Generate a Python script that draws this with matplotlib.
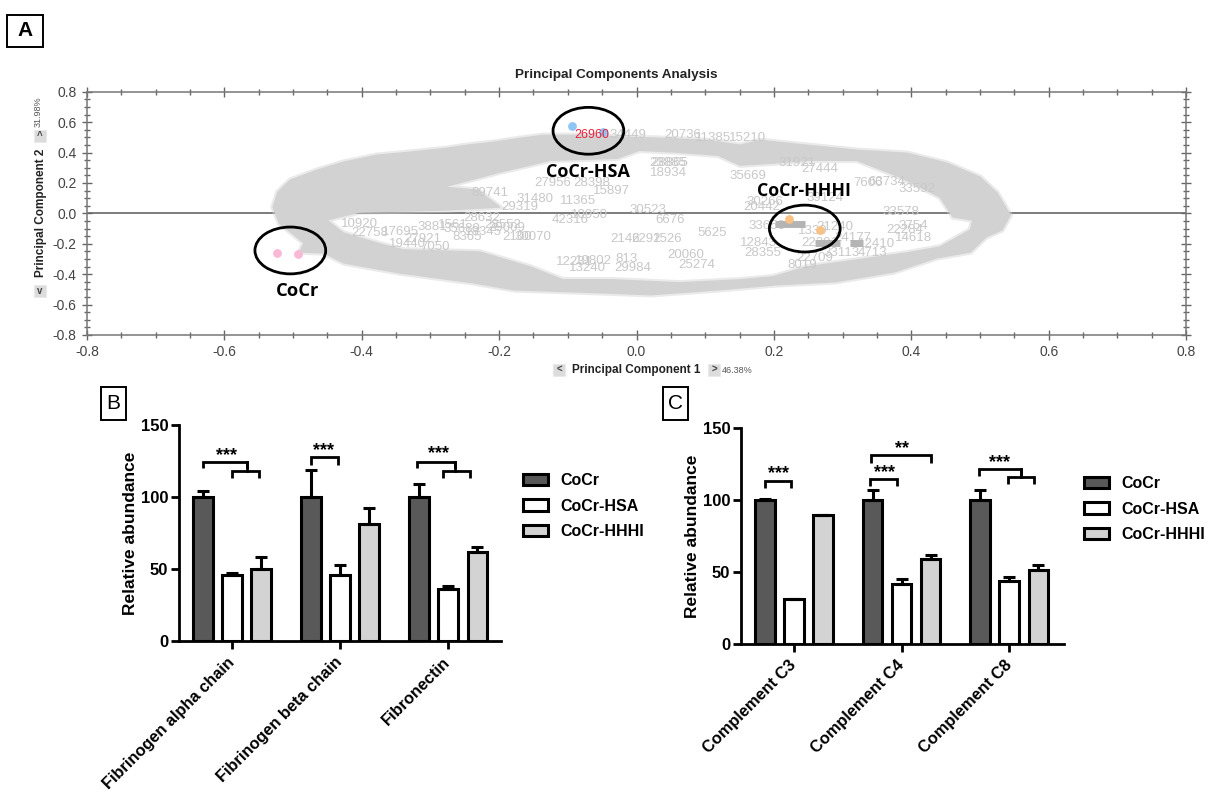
import numpy as np
import matplotlib
matplotlib.use('Agg')
import matplotlib.pyplot as plt
from matplotlib.patches import Ellipse, PathPatch, Rectangle
from matplotlib.path import Path
from matplotlib.ticker import MultipleLocator

plt.rcParams['font.family'] = ['Liberation Sans', 'DejaVu Sans']
plt.rcParams['axes.unicode_minus'] = False

W, H = 1215, 793

# PCA cloud outline
cloud_outer_x = [-0.522, -0.504, -0.465, -0.427, -0.378, -0.33, -0.276, -0.247, -0.209, -0.17, -0.136, -0.075,
                 -0.014, 0.044, 0.103, 0.151, 0.18, 0.248, 0.321, 0.394, 0.452, 0.5, 0.525, 0.544, 0.532, 0.509,
                 0.486, 0.437, 0.375, 0.289, 0.203, 0.119, 0.021, -0.053, -0.178, -0.237, -0.346, -0.426, -0.455,
                 -0.49, -0.484, -0.502, -0.52, -0.529]
cloud_outer_y = [0.14, 0.218, 0.284, 0.336, 0.382, 0.402, 0.428, 0.448, 0.467, 0.493, 0.513, 0.513,
                 0.5, 0.493, 0.48, 0.448, 0.48, 0.448, 0.415, 0.395, 0.33, 0.238, 0.133, -0.011, -0.109, -0.155,
                 -0.254, -0.293, -0.385, -0.45, -0.47, -0.503, -0.535, -0.522, -0.503, -0.457, -0.391, -0.326, -0.26,
                 -0.254, -0.195, -0.129, -0.064, 0.041]
cloud_hole_x = [-0.403, -0.276, -0.199, -0.232, -0.282, -0.199, -0.155, -0.126, -0.028, 0.004, 0.06, 0.119, 0.151,
                0.199, 0.248, 0.321, 0.384, 0.442, 0.461, 0.49, 0.486, 0.442, 0.394, 0.321, 0.248, 0.199, 0.151,
                0.063, -0.034, -0.107, -0.155, -0.228, -0.34, -0.378, -0.427, -0.451]
cloud_hole_y = [0.009, 0.022, 0.041, 0.153, 0.172, 0.271, 0.317, 0.349, 0.362, 0.415, 0.402, 0.382, 0.317,
                0.33, 0.349, 0.349, 0.238, 0.107, -0.024, -0.044, -0.109, -0.221, -0.26, -0.306, -0.352, -0.417, -0.437,
                -0.457, -0.437, -0.437, -0.352, -0.254, -0.24, -0.195, -0.129, -0.044]

# loose protein ids that can be read outside the cloud
protein_ids = ['30523', '6676', '2146', '2292', '1526', '5625', '813', '29984', '20060', '25274', '12231', '19802',
               '13240', '2100', '30070', '42316', '10950', '11365', '31480', '29319', '15897', '28398', '27956',
               '18934', '20736', '23885', '28865', '35669', '27444', '31921', '7606', '63734', '33592', '39124',
               '30266', '20442', '33578', '33658', '21240', '12843', '28355', '22709', '33113', '4713', '8019',
               '3754', '22284', '14618', '7050', '8365', '28552', '28632', '89741',
               '1561', '3881', '10920', '17695', '27921', '35689', '18345', '29009', '22758', '19440',
               '12410', '24177', '1339', '22291', '34449', '11385', '15210']
protein_x = [0.017, 0.049, -0.017, 0.014, 0.046, 0.11, -0.014, -0.005, 0.072, 0.087, -0.09, -0.063,
             -0.072, -0.174, -0.151, -0.097, -0.068, -0.085, -0.148, -0.17, -0.036, -0.065, -0.122,
             0.047, 0.068, 0.046, 0.048, 0.162, 0.267, 0.233, 0.337, 0.365, 0.408, 0.274,
             0.187, 0.183, 0.385, 0.19, 0.289, 0.178, 0.184, 0.26, 0.299, 0.343, 0.241,
             0.403, 0.391, 0.403, -0.293, -0.247, -0.194, -0.225, -0.213,
             -0.268, -0.298, -0.403, -0.344, -0.311, -0.254, -0.223, -0.189, -0.388, -0.334,
             0.35, 0.315, 0.257, 0.267, -0.012, 0.111, 0.162]
protein_y = [0.022, -0.044, -0.168, -0.168, -0.168, -0.129, -0.3, -0.358, -0.273, -0.339, -0.319, -0.312,
             -0.358, -0.155, -0.155, -0.044, -0.011, 0.08, 0.094, 0.041, 0.146, 0.199, 0.199,
             0.264, 0.513, 0.33, 0.33, 0.244, 0.29, 0.33, 0.199, 0.205, 0.159, 0.1,
             0.074, 0.041, 0.009, -0.083, -0.09, -0.195, -0.26, -0.293, -0.26, -0.26, -0.339,
             -0.083, -0.109, -0.162, -0.22, -0.155, -0.077, -0.031, 0.133,
             -0.077, -0.09, -0.07, -0.122, -0.168, -0.103, -0.122, -0.097, -0.129, -0.2,
             -0.2, -0.162, -0.116, -0.195, 0.513, 0.493, 0.493]

# dense runs of overlapping ids near CoCr-HHHI
dense_x0 = [0.201, 0.26, 0.311]
dense_x1 = [0.245, 0.296, 0.33]
dense_y = [-0.07, -0.195, -0.195]

# group samples
cocr_x, cocr_y = [-0.523, -0.493], [-0.26, -0.267]
hsa_x, hsa_y = [-0.094, -0.049], [0.572, 0.533]
hhhi_x, hhhi_y = [0.222, 0.267], [-0.037, -0.109]

# bar panels
series = ['CoCr', 'CoCr-HSA', 'CoCr-HHHI']
colors = ['#595959', 'white', '#d3d3d3']

cats_b = ['Fibrinogen alpha chain', 'Fibrinogen beta chain', 'Fibronectin']
vals_b = [[100, 100, 100], [46, 46, 36], [50, 81.5, 61.5]]
errs_b = [[4, 19, 9], [1, 7, 2], [8, 11, 4]]

cats_c = ['Complement C3', 'Complement C4', 'Complement C8']
vals_c = [[100, 100, 100], [31, 41.5, 43.5], [89.5, 59, 51.5]]
errs_c = [[0.7, 7, 7], [0.4, 3.5, 3], [0.4, 3, 3.5]]


def add_axes_px(left, top, right, bottom):
    return fig.add_axes([left / W, 1 - bottom / H, (right - left) / W, (bottom - top) / H])


def fig_text(x, y, s, **kw):
    kw.setdefault('ha', 'center')
    kw.setdefault('va', 'center')
    return fig.text(x / W, 1 - y / H, s, **kw)


def panel_box(left, top, right, bottom, letter, **kw):
    fig.add_artist(Rectangle((left / W, 1 - bottom / H), (right - left) / W, (bottom - top) / H,
                             transform=fig.transFigure, fc='white', ec='black', lw=1.4))
    fig_text((left + right) / 2, (top + bottom) / 2, letter, fontsize=15, **kw)


def arrow_button(x, y, glyph):
    fig.add_artist(Rectangle(((x - 6) / W, 1 - (y + 6) / H), 12 / W, 12 / H, transform=fig.transFigure,
                             fc='#dcdcdc', ec='#e8e8e8', lw=0.5))
    fig_text(x, y, glyph, fontsize=7, color='#444444', fontweight='bold')


def bracket(ax, x0, x1, y, drop):
    ax.plot([x0, x0, x1, x1], [y - drop, y, y, y - drop], color='black', lw=2, clip_on=False,
            solid_joinstyle='miter', solid_capstyle='butt')


def stars(ax, x, y, s):
    ax.text(x, y, s, ha='center', va='center', fontsize=13, fontweight='bold')


def bar_panel(ax, cats, vals, errs, legend_xy):
    pos = np.arange(len(cats))
    for i, name in enumerate(series):
        ax.bar(pos + (i - 1) * 0.27, vals[i], 0.18, color=colors[i], edgecolor='black', lw=2.2, label=name,
               yerr=[np.zeros(len(cats)), errs[i]],
               error_kw=dict(ecolor='black', elinewidth=2.2, capsize=4.3, capthick=2.2))
    ax.set_ylim(0, 150)
    ax.set_yticks([0, 50, 100, 150])
    ax.set_xticks(pos)
    ax.set_xticklabels(cats, rotation=45, ha='right', va='center', rotation_mode='anchor',
                       fontsize=11.8, fontweight='bold')
    ax.set_ylabel('Relative abundance', fontsize=12.5, fontweight='bold', labelpad=2)
    ax.tick_params(axis='both', width=2, length=5.5, pad=2)
    ax.tick_params(axis='x', pad=8)
    ax.tick_params(axis='y', labelsize=12)
    for lab in ax.get_yticklabels():
        lab.set_fontweight('bold')
    ax.spines[['top', 'right']].set_visible(False)
    ax.spines[['left', 'bottom']].set_linewidth(2)
    ax.legend(loc='upper left', bbox_to_anchor=(legend_xy[0] / W, 1 - legend_xy[1] / H),
              bbox_transform=fig.transFigure, frameon=False, borderpad=0, borderaxespad=0,
              prop=dict(size=11.5, weight='bold'), handlelength=1.55, handleheight=0.75,
              handletextpad=0.8, labelspacing=0.66)


fig = plt.figure(figsize=(W / 100, H / 100), dpi=100)

# Panel A
ax = add_axes_px(87, 91.7, 1186, 335)
ax.set_xlim(-0.8, 0.8)
ax.set_ylim(-0.8, 0.8)
ax.axhline(0, color='#666666', lw=1.2, zorder=1)

outer = np.column_stack([cloud_outer_x + cloud_outer_x[:1], cloud_outer_y + cloud_outer_y[:1]])
hole = np.column_stack([cloud_hole_x + cloud_hole_x[:1], cloud_hole_y + cloud_hole_y[:1]])[::-1]
cloud = Path.make_compound_path(Path(outer, closed=True), Path(hole, closed=True))
ax.add_patch(PathPatch(cloud, fc='none', ec='#d2d2d2', lw=4, alpha=0.45, zorder=2))
ax.add_patch(PathPatch(cloud, fc='#d2d2d2', ec='#d2d2d2', lw=1, zorder=2))

for name, px, py in zip(protein_ids, protein_x, protein_y):
    ax.text(px, py, name, color='#c8c8c8', fontsize=9.5, ha='center', va='center', zorder=3)
ax.hlines(dense_y, dense_x0, dense_x1, color='#b4b4b4', lw=5, zorder=3)

ax.scatter(cocr_x, cocr_y, s=28, color='#f9b8d6', zorder=4)
ax.scatter(hsa_x, hsa_y, s=28, color='#8ec5f5', zorder=4)
ax.scatter(hhhi_x, hhhi_y, s=28, color='#f9c184', zorder=4)
ax.text(-0.065, 0.513, '26960', color='#e8203a', fontsize=9, ha='center', va='center', zorder=5)

for cx, cy in [(-0.504, -0.244), (-0.07, 0.543), (0.245, -0.1)]:
    ax.add_patch(Ellipse((cx, cy), 0.103, 0.308, fc='none', ec='black', lw=2, zorder=6))
for lx, ly, s, fs in [(-0.494, -0.51, 'CoCr', 13.2), (-0.07, 0.27, 'CoCr-HSA', 13), (0.244, 0.15, 'CoCr-HHHI', 12.8)]:
    ax.text(lx, ly, s, family='Open Sans', fontweight='bold', fontsize=fs, ha='center', va='center', zorder=7)

ax.xaxis.set_major_locator(MultipleLocator(0.2))
ax.xaxis.set_minor_locator(MultipleLocator(0.05))
ax.yaxis.set_major_locator(MultipleLocator(0.2))
ax.yaxis.set_minor_locator(MultipleLocator(0.05))
ax.tick_params(which='major', direction='inout', length=7, width=1, color='#666666', labelsize=10,
               labelcolor='#444444', pad=4, top=True, right=True)
ax.tick_params(which='minor', direction='inout', length=4, width=1, color='#666666', top=True, right=True)
for sp in ax.spines.values():
    sp.set_color('#777777')
    sp.set_linewidth(1.1)

fig_text(616, 75, 'Principal Components Analysis', fontsize=9.7, fontweight='bold', color='#222222')
fig_text(41, 213, 'Principal Component 2', fontsize=8.5, fontweight='bold', rotation=90, color='#222222')
fig_text(38, 112, '31.98%', fontsize=6.5, rotation=90, color='#555555')
fig_text(636, 370, 'Principal Component 1', fontsize=8.5, fontweight='bold', color='#222222')
fig_text(737, 370, '46.38%', fontsize=6.5, color='#555555')
arrow_button(40, 136, '^')
arrow_button(40, 291, 'v')
arrow_button(559, 370, '<')
arrow_button(714, 370, '>')

panel_box(7, 15, 43, 47, 'A', fontweight='bold')
panel_box(101, 387, 126, 420, 'B')
panel_box(663, 387, 688, 420, 'C')

# Panel B
ax_b = add_axes_px(178.6, 425, 501, 641)
ax_b.set_xlim(-0.494, 2.49)
bar_panel(ax_b, cats_b, vals_b, errs_b, (523, 473))
bracket(ax_b, -0.27, 0.14, 124.5, 4.5)
bracket(ax_b, 0.0, 0.25, 118, 4.5)
ax_b.plot([0.14, 0.14], [124.5, 118], color='black', lw=2)
stars(ax_b, -0.05, 129, '***')
bracket(ax_b, 0.73, 0.98, 128, 6)
stars(ax_b, 0.85, 132, '***')
bracket(ax_b, 1.713, 2.065, 124.5, 4.5)
bracket(ax_b, 1.954, 2.2, 118, 4.5)
ax_b.plot([2.065, 2.065], [124.5, 118], color='black', lw=2)
stars(ax_b, 1.91, 130, '***')

# Panel C
ax_c = add_axes_px(740.7, 428, 1063.5, 644)
ax_c.set_xlim(-0.495, 2.505)
bar_panel(ax_c, cats_c, vals_c, errs_c, (1084, 476))
bracket(ax_c, -0.27, -0.03, 113, 5)
stars(ax_c, -0.14, 118, '***')
bracket(ax_c, 0.71, 0.96, 114.6, 5)
stars(ax_c, 0.84, 119, '***')
bracket(ax_c, 0.72, 1.275, 131, 5)
stars(ax_c, 1.0, 136, '**')
bracket(ax_c, 1.72, 2.11, 121.5, 5)
bracket(ax_c, 1.99, 2.23, 116, 5)
ax_c.plot([2.11, 2.11], [121.5, 116], color='black', lw=2)
stars(ax_c, 1.91, 126, '***')

fig.savefig('out.png', dpi=100)
